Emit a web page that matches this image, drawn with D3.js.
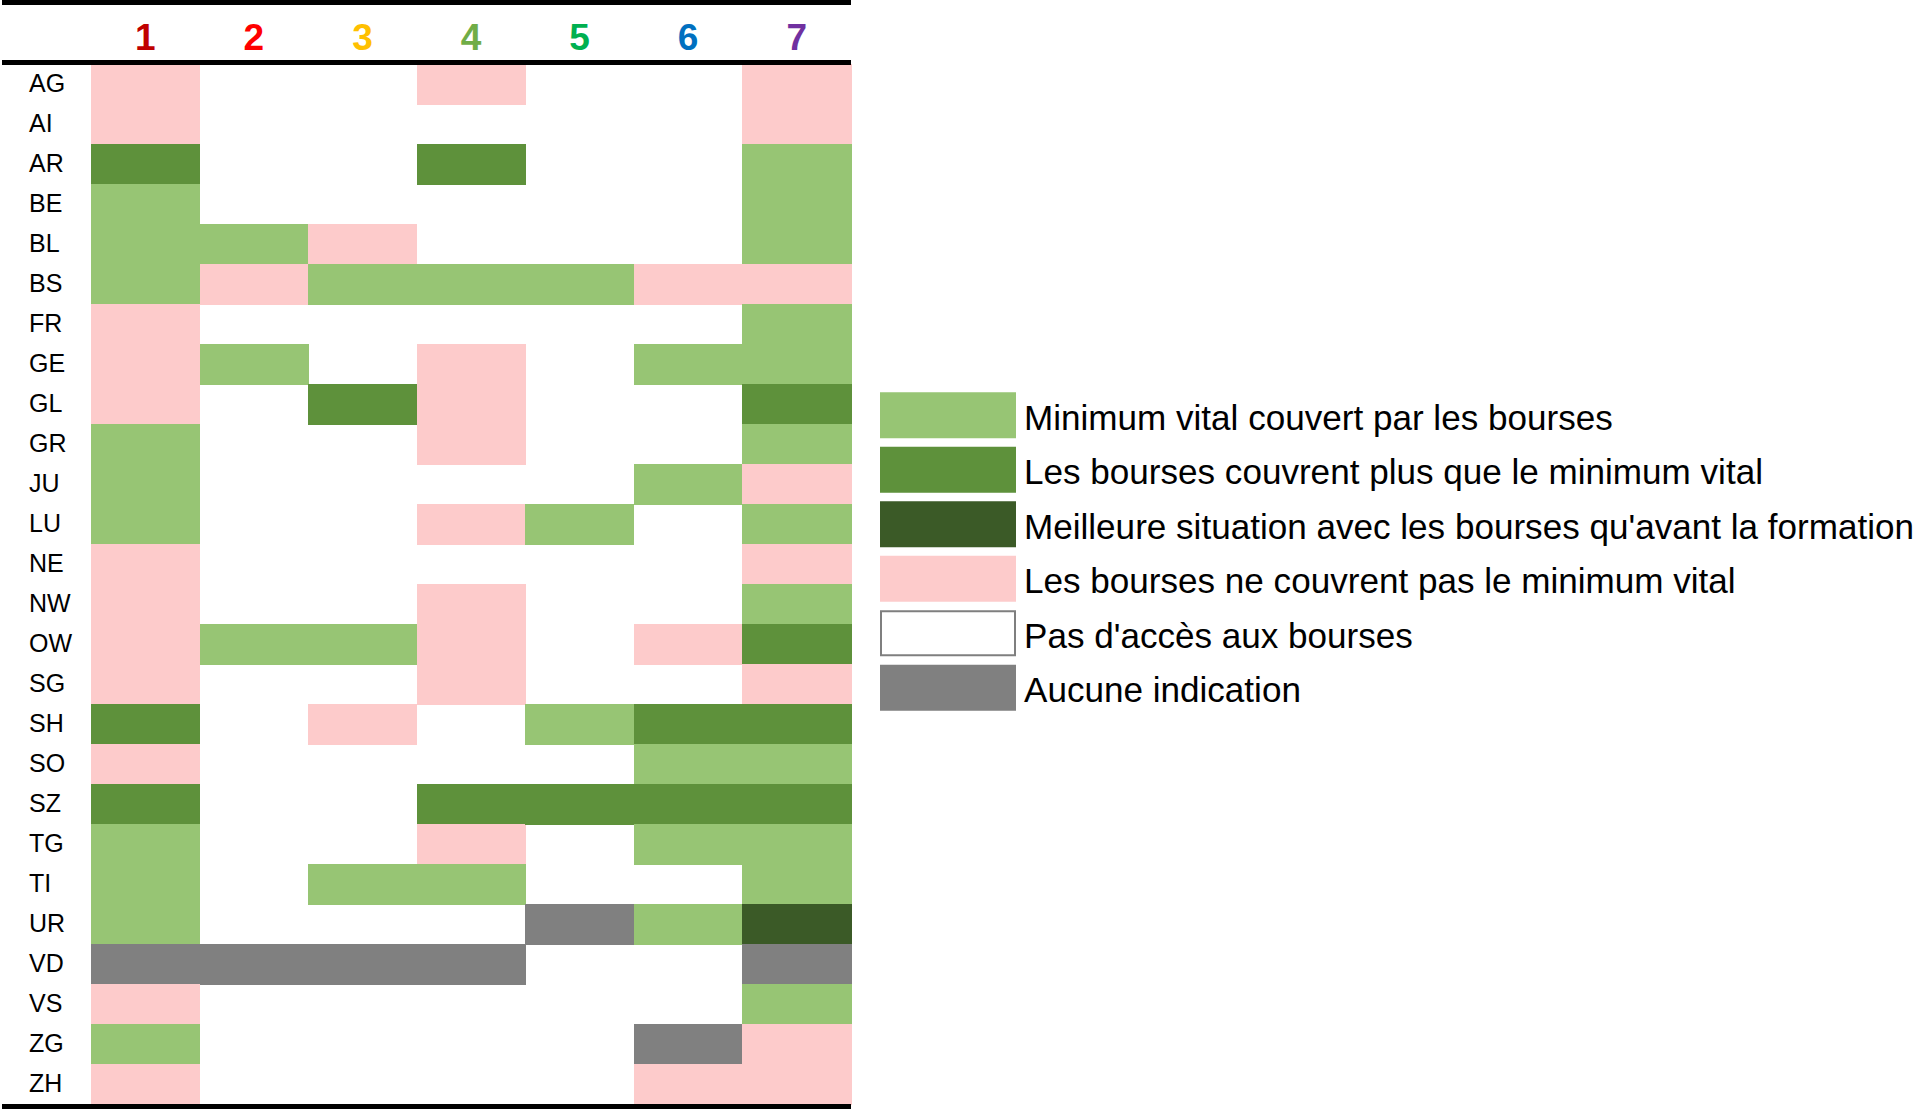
<!DOCTYPE html>
<html>
<head>
<meta charset="utf-8">
<script src="https://cdn.jsdelivr.net/npm/d3@7/dist/d3.min.js"></script>
<style>
  html, body { margin: 0; padding: 0; background: #fff; }
  svg { display: block; font-family: Arial, "Liberation Sans", sans-serif; }
</style>
</head>
<body>
<svg id="chart" width="1923" height="1110"></svg>
<script>
// ---- Data ----
const cantons = ["AG","AI","AR","BE","BL","BS","FR","GE","GL","GR","JU","LU","NE","NW","OW","SG","SH","SO","SZ","TG","TI","UR","VD","VS","ZG","ZH"];
const columns = ["1","2","3","4","5","6","7"];
const columnColors = ["#c00000","#ff0000","#ffc000","#70ad47","#00b050","#0070c0","#7030a0"];

// Status codes: L = minimum vital couvert, M = plus que le minimum, D = meilleure situation,
// P = ne couvrent pas, W = pas d'accès, G = aucune indication
const col1 = ["P","P","M","L","L","L","P","P","P","L","L","L","P","P","P","P","M","P","M","L","L","L","G","P","L","P"];
const col2 = ["W","W","W","W","L","P","W","L","W","W","W","W","W","W","L","W","W","W","W","W","W","W","G","W","W","W"];
const col3 = ["W","W","W","W","P","L","W","W","M","W","W","W","W","W","L","W","P","W","W","W","L","W","G","W","W","W"];
const col4 = ["P","W","M","W","W","L","W","P","P","P","W","P","W","P","P","P","W","W","M","P","L","W","G","W","W","W"];
const col5 = ["W","W","W","W","W","L","W","W","W","W","W","L","W","W","W","W","L","W","M","W","W","G","W","W","W","W"];
const col6 = ["W","W","W","W","W","P","W","L","W","W","L","W","W","W","P","W","M","L","M","L","W","L","W","W","G","P"];
const col7 = ["P","P","L","L","L","P","L","L","M","L","P","L","P","L","M","P","M","L","M","L","L","D","G","L","P","P"];
const seriesValues = [col1, col2, col3, col4, col5, col6, col7];

const statusCodes = ["L","M","D","P","W","G"];
const statusColors = ["#97c574","#5e913b","#3b5a27","#fdcbcb","#ffffff","#808080"];
const legendLabels = [
  "Minimum vital couvert par les bourses",
  "Les bourses couvrent plus que le minimum vital",
  "Meilleure situation avec les bourses qu'avant la formation",
  "Les bourses ne couvrent pas le minimum vital",
  "Pas d'accès aux bourses",
  "Aucune indication"
];

// ---- Chart ----
const svg = d3.select("#chart");
const x = d3.scaleBand().domain(columns).range([91, 851]).paddingInner(0).paddingOuter(0);
const y = d3.scaleBand().domain(cantons).range([64, 1104]).paddingInner(0).paddingOuter(0);
const color = d3.scaleOrdinal().domain(statusCodes).range(statusColors);

const cells = [];
seriesValues.forEach((vals, ci) => {
  vals.forEach((v, ri) => cells.push({ col: columns[ci], canton: cantons[ri], status: v }));
});

svg.append("g")
  .selectAll("rect")
  .data(cells.filter(d => d.status !== "W"))
  .join("rect")
  .attr("x", d => x(d.col))
  .attr("y", d => y(d.canton))
  .attr("width", x.bandwidth() + 0.5)
  .attr("height", y.bandwidth() + 0.5)
  .attr("fill", d => color(d.status))
  .attr("shape-rendering", "crispEdges");

// Header numbers
svg.append("g")
  .selectAll("text")
  .data(columns)
  .join("text")
  .attr("x", d => x(d) + x.bandwidth() / 2)
  .attr("y", 50)
  .attr("text-anchor", "middle")
  .attr("font-size", 37)
  .attr("font-weight", "bold")
  .attr("fill", (d, i) => columnColors[i])
  .text(d => d);

// Row labels
svg.append("g")
  .selectAll("text")
  .data(cantons)
  .join("text")
  .attr("x", 29)
  .attr("y", d => y(d) + y.bandwidth() / 2 - 1)
  .attr("dy", "0.36em")
  .attr("font-size", 25)
  .attr("fill", "#000")
  .text(d => d);

// Horizontal rules
const rules = [{ y: 0, h: 5 }, { y: 60, h: 5 }, { y: 1104, h: 5 }];
svg.append("g")
  .selectAll("rect")
  .data(rules)
  .join("rect")
  .attr("x", 2)
  .attr("y", d => d.y)
  .attr("width", 849)
  .attr("height", d => d.h)
  .attr("fill", "#000")
  .attr("shape-rendering", "crispEdges");

// Legend
const ly = d3.scaleBand().domain(statusCodes).range([388, 715]).paddingInner(0).paddingOuter(0);
const legend = svg.append("g");
legend.selectAll("rect")
  .data(statusCodes)
  .join("rect")
  .attr("x", d => d === "W" ? 881 : 880)
  .attr("y", d => ly(d) + ly.bandwidth() / 2 - 23 + (d === "W" ? 1 : 0))
  .attr("width", d => d === "W" ? 134 : 136)
  .attr("height", d => d === "W" ? 44 : 46)
  .attr("fill", d => color(d))
  .attr("stroke", d => d === "W" ? "#7f7f7f" : "none")
  .attr("stroke-width", 2);

legend.selectAll("text")
  .data(statusCodes)
  .join("text")
  .attr("x", 1024)
  .attr("y", d => ly(d) + ly.bandwidth() / 2 + 2)
  .attr("dy", "0.36em")
  .attr("font-size", 35.1)
  .attr("fill", "#000")
  .text((d, i) => legendLabels[i]);
</script>
</body>
</html>
